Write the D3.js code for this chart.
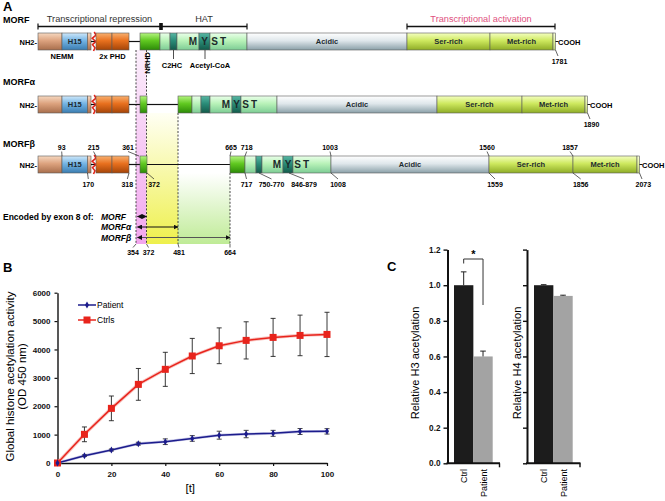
<!DOCTYPE html>
<html><head><meta charset="utf-8">
<script src="https://cdn.jsdelivr.net/npm/d3@7/dist/d3.min.js"></script>
<style>
html,body{margin:0;padding:0;background:#fff;}
svg{display:block;}
text{font-family:"Liberation Sans",Arial,Helvetica,sans-serif;}
</style></head>
<body>
<svg id="fig" width="665" height="501"></svg>
<script>
// ---------------- Panel B data ----------------
const timePoints      = [0,10,20,30,40,50,60,70,80,90,100];
const patientActivity = [0,257,458,680,750,865,980,1020,1045,1110,1115];
const patientError    = [0,30,35,50,100,100,140,130,105,105,95];
const ctrlActivity    = [0,1010,1925,2770,3300,3770,4130,4320,4425,4495,4530];
const ctrlError       = [0,260,435,560,600,620,630,655,670,715,780];
const activityTicks   = [0,1000,2000,3000,4000,5000,6000];
const timeTicks       = [0,20,40,60,80,100];
const seriesNames     = ["Patient","Ctrls"];

// ---------------- Panel C data ----------------
const sampleGroups  = ["Ctrl","Patient"];
const h3Values      = [1.0,0.6];
const h3Errors      = [0.075,0.03];
const h4Values      = [1.0,0.94];
const h4Errors      = [0.003,0.004];
const relativeTicks = [0,0.2,0.4,0.6,0.8,1.0,1.2];

// ---------------- Panel A schematic (boundaries in schematic units) ----------------
const isoformNames = ["MORF","MORF\u03b1","MORF\u03b2"];
const morfDomains = [["nemm",38,62],["h15",62,87.5,"H15"],["nemm",87.5,91],["break",91,96],["phd",96,112],["phd",112,129],["linker",129,140],["nrhd",140,160],["hat",160,170],["teal",170,177],["hat",177,199],["teal",199,210,"Y"],["hat",210,247],["acidic",247,407,"Acidic"],["ser",407,490,"Ser-rich"],["met",490,553,"Met-rich"],["cap",553,555.5]];
const morfAlphaDomains = [["nemm",38,62],["h15",62,87.5,"H15"],["nemm",87.5,91],["break",91,96],["phd",96,112],["phd",112,129],["linker",129,140],["nrhd",140,147],["linker",147,178],["nrhd",178,192],["hat",192,201],["teal",201,210],["hat",210,232],["teal",232,241,"Y"],["hat",241,277],["acidic",277,437,"Acidic"],["ser",437,522,"Ser-rich"],["met",522,585,"Met-rich"],["cap",585,587.5]];
const morfBetaDomains = [["nemm",38,62],["h15",62,87.5,"H15"],["nemm",87.5,91],["break",91,96],["phd",96,112],["phd",112,129],["linker",129,140],["nrhd",140,147],["linker",147,230],["nrhd",230,245],["hat",245,256],["teal",256,262],["hat",262,283],["teal",283,293,"Y"],["hat",293,331],["acidic",331,489,"Acidic"],["ser",489,573,"Ser-rich"],["met",573,637,"Met-rich"],["cap",637,639.5]];
const mystLetters = ["M","Y","S","T"];
const endResidues = ["1781","1890","2073"];
const betaTopNumbers = [["93",61.7,62],["215",93.5,96],["361",128,139],["665",231,230],["718",246.7,245],["1003",330,331],["1560",487,489],["1857",570,573]];
const betaBottomNumbers = [["170",88.3,87.5],["318",127.3,129],["372",154,147],["717",246.5,245],["750-770",271.5,259],["846-879",304,289],["1008",338,331],["1559",495,489],["1856",580.7,573]];
const exonLabels = [["354",133,136],["372",148.5,146.5],["481",179,178],["664",230,230]];
const exonArrows = [["MORF",146.5],["MORF\u03b1",178],["MORF\u03b2",230]];
const bracketSpans = [["Transcriptional repression",38,161,"#333"],["HAT",161,247,"#333"],["Transcriptional activation",407,555,"#e0507e"]];

const svg = d3.select("#fig");
const defs = svg.append("defs");
const palette = {
  nemm:["#f6d8c0","#dca27e","#a86e4c"],
  h15:["#cfe8fa","#74b4e4","#3a7cb0"],
  phd:["#f8b070","#e8701e","#a44408"],
  nrhd:["#b4f480","#60c820","#2c8a08"],
  hat:["#eaffea","#b8f2b8","#7ccc94"],
  teal:["#58b8a4","#2a8c78","#135a4a"],
  acidic:["#ffffff","#dfe7eb","#8aa0a8"],
  ser:["#f4ffc0","#cde85e","#8eac26"],
  met:["#f4ffc0","#cde85e","#8eac26"],
  cap:["#f8ffd8","#e4f4a0","#b8cc70"]
};
Object.entries(palette).forEach(([k,c])=>{
  const g = defs.append("linearGradient").attr("id","g-"+k).attr("x1",0).attr("y1",0).attr("x2",0).attr("y2",1);
  g.append("stop").attr("offset","0%").attr("stop-color",c[0]);
  g.append("stop").attr("offset","45%").attr("stop-color",c[1]);
  g.append("stop").attr("offset","100%").attr("stop-color",c[2]);
});
const bands = {pink:["#fbeefb","#f2a6ee"],yellow:["#fffff4","#eef04c"],green:["#ffffff","#bfeb96"]};
Object.entries(bands).forEach(([k,c])=>{
  const g = defs.append("linearGradient").attr("id","b-"+k).attr("x1",0).attr("y1",0).attr("x2",0).attr("y2",1);
  g.append("stop").attr("offset","0%").attr("stop-color",c[0]);
  g.append("stop").attr("offset","100%").attr("stop-color",c[1]);
});
["arrR","arrL"].forEach((id,i)=>{
  defs.append("marker").attr("id",id).attr("viewBox","0 0 10 10").attr("refX",i?1:9).attr("refY",5)
    .attr("markerWidth",5).attr("markerHeight",5).attr("orient","auto")
    .append("path").attr("d",i?"M10,0L0,5L10,10z":"M0,0L10,5L0,10z").attr("fill","#111");
});

// ---------------- Panel A ----------------
const sx = d3.scaleLinear().domain([0,665]).range([0,665]);
const rowCenters = [41.5,104.5,164.5];
const barH = 17;
const gA = svg.append("g");
gA.append("text").attr("x",3).attr("y",11).attr("font-size",13).attr("font-weight","bold").text("A");

// shaded exon-8 bands
const bandTop = rowCenters.map(c=>c+barH/2);
gA.append("rect").attr("x",sx(136)).attr("y",bandTop[0]).attr("width",sx(146.5)-sx(136)).attr("height",244-bandTop[0]).attr("fill","url(#b-pink)");
gA.append("rect").attr("x",sx(146.5)).attr("y",bandTop[1]).attr("width",sx(178)-sx(146.5)).attr("height",244-bandTop[1]).attr("fill","url(#b-yellow)");
gA.append("rect").attr("x",sx(178)).attr("y",bandTop[2]).attr("width",sx(230)-sx(178)).attr("height",244-bandTop[2]).attr("fill","url(#b-green)");
[[136,0],[146.5,0],[178,1],[230,2]].forEach(([x,r])=>{
  gA.append("line").attr("x1",sx(x)).attr("x2",sx(x)).attr("y1",bandTop[r]).attr("y2",244)
    .attr("stroke","#333").attr("stroke-width",0.9).attr("stroke-dasharray","2,1.6");
});

// brackets
bracketSpans.forEach(([t,a,b,col])=>{
  const y = 26.5;
  gA.append("line").attr("x1",sx(a)).attr("x2",sx(b)).attr("y1",y).attr("y2",y).attr("stroke","#111").attr("stroke-width",1.4);
  [a,b].forEach(x=>gA.append("line").attr("x1",sx(x)).attr("x2",sx(x)).attr("y1",y-3).attr("y2",y+3).attr("stroke","#111").attr("stroke-width",1.2));
  gA.append("text").attr("x",(sx(a)+sx(b))/2).attr("y",22).attr("text-anchor","middle").attr("font-size",9.2).attr("fill",col).text(t);
});
gA.append("rect").attr("x",sx(161)-1.8).attr("y",23).attr("width",3.6).attr("height",7).attr("fill","#111");

const allDomains = [morfDomains,morfAlphaDomains,morfBetaDomains];
const labelY = [23,85,147];
allDomains.forEach((doms,ri)=>{
  const cy = rowCenters[ri], top = cy-barH/2;
  const g = gA.append("g");
  g.append("text").attr("x",3).attr("y",labelY[ri]).attr("font-size",9).attr("font-weight","bold").text(isoformNames[ri]);
  g.append("text").attr("x",sx(38)-1).attr("y",cy+3).attr("text-anchor","end").attr("font-size",7.5).attr("font-weight","bold").text("NH2-");
  doms.forEach(([type,a,b,lab])=>{
    if(type==="linker"||type==="break"){
      g.append("line").attr("x1",sx(a)).attr("x2",sx(b)).attr("y1",cy).attr("y2",cy).attr("stroke","#111").attr("stroke-width",1.2);
      if(type==="break"){
        const xs=[sx(a)+3.2,sx(a)+5,sx(a)+1.2,sx(a)+4.8,sx(a)+1.5,sx(a)+4,sx(a)+2.5];
        const pts = xs.map((x,i)=>[x, top-1+i*(barH+2)/(xs.length-1)]);
        g.append("path").attr("d",d3.line()(pts)).attr("fill","none").attr("stroke","#e2261c").attr("stroke-width",1.6);
      }
      return;
    }
    g.append("rect").attr("x",sx(a)).attr("y",top).attr("width",sx(b)-sx(a)).attr("height",barH)
      .attr("fill",`url(#g-${type})`).attr("stroke","#5a5a5a").attr("stroke-width",0.6);
    if(lab && type!=="teal"){
      g.append("text").attr("x",(sx(a)+sx(b))/2).attr("y",cy+2.7).attr("text-anchor","middle")
        .attr("font-size",7.5).attr("font-weight","bold").attr("fill","#1d2a30").text(lab);
    }
  });
  // MYST letters drawn on top of all domain boxes
  doms.filter(d=>d[0]==="teal" && d[3]==="Y").forEach(([type,a,b])=>{
    const xs=[sx(a)-6,(sx(a)+sx(b))/2,sx(b)+4.5,sx(b)+13];
    mystLetters.forEach((l,i)=>g.append("text").attr("x",xs[i]).attr("y",cy+3.6).attr("text-anchor","middle")
      .attr("font-size",10).attr("font-weight","bold").attr("fill","#1c2b2c").text(l));
  });
  const endX = sx(doms[doms.length-1][2]);
  g.append("line").attr("x1",endX).attr("x2",endX+3).attr("y1",cy).attr("y2",cy).attr("stroke","#111").attr("stroke-width",1);
  g.append("text").attr("x",endX+2.5).attr("y",cy+3).attr("font-size",7.5).attr("font-weight","bold").text("COOH");
  g.append("path").attr("d",`M${endX},${cy+barH/2}L${endX+2.5},${cy+barH/2+6}`).attr("stroke","#222").attr("stroke-width",0.7).attr("fill","none");
  if(ri<2) g.append("text").attr("x",endX+4).attr("y",cy+barH/2+14).attr("text-anchor","middle").attr("font-size",7).attr("font-weight","bold").text(endResidues[ri]);
  else g.append("text").attr("x",643.3).attr("y",187).attr("text-anchor","middle").attr("font-size",7).attr("font-weight","bold").text(endResidues[ri]);
});

// MORF annotations
const m0 = rowCenters[0]+barH/2;
gA.append("text").attr("x",sx(62)).attr("y",m0+9).attr("text-anchor","middle").attr("font-size",7.5).attr("font-weight","bold").text("NEMM");
gA.append("text").attr("x",sx(112.5)).attr("y",m0+9).attr("text-anchor","middle").attr("font-size",7.5).attr("font-weight","bold").text("2x PHD");
gA.append("text").attr("transform",`translate(${sx(149.5)},${m0+2}) rotate(-90)`).attr("text-anchor","end").attr("font-size",7.5).attr("font-weight","bold").text("NRHD");
[["C2HC",173.5,172],["Acetyl-CoA",205,210]].forEach(([t,lx,tx])=>{
  gA.append("line").attr("x1",sx(lx)).attr("x2",sx(lx)).attr("y1",m0).attr("y2",m0+9).attr("stroke","#222").attr("stroke-width",0.8);
  gA.append("text").attr("x",sx(tx)).attr("y",m0+18).attr("text-anchor","middle").attr("font-size",7.5).attr("font-weight","bold").text(t);
});

// MORFβ numbering
const bTop = rowCenters[2]-barH/2, bBot = rowCenters[2]+barH/2;
betaTopNumbers.forEach(([t,lx,bx])=>{
  gA.append("text").attr("x",sx(lx)).attr("y",bTop-6).attr("text-anchor","middle").attr("font-size",7).attr("font-weight","bold").text(t);
  gA.append("path").attr("d",`M${sx(lx)},${bTop-4.5}L${sx(bx)},${bTop}`).attr("stroke","#222").attr("stroke-width",0.7);
});
betaBottomNumbers.forEach(([t,lx,bx])=>{
  gA.append("text").attr("x",sx(lx)).attr("y",bBot+14).attr("text-anchor","middle").attr("font-size",7).attr("font-weight","bold").text(t);
  gA.append("path").attr("d",`M${sx(bx)},${bBot}L${sx(lx)},${bBot+6}`).attr("stroke","#222").attr("stroke-width",0.7);
});

// encoded by exon 8
const arrowY = [216.5,227,237.5];
gA.append("text").attr("x",3).attr("y",219.5).attr("font-size",8.5).attr("font-weight","bold").text("Encoded by exon 8 of:");
exonArrows.forEach(([name,end],i)=>{
  gA.append("text").attr("x",101).attr("y",arrowY[i]+3).attr("font-size",8.5).attr("font-weight","bold").attr("font-style","italic").text(name);
  gA.append("line").attr("x1",sx(137.5)).attr("x2",sx(end)).attr("y1",arrowY[i]).attr("y2",arrowY[i])
    .attr("stroke",i===2?"#555":"#111").attr("stroke-width",1)
    .attr("marker-start","url(#arrL)").attr("marker-end","url(#arrR)");
});
exonLabels.forEach(([t,lx,bx])=>{
  gA.append("path").attr("d",`M${sx(bx)},244L${sx(lx)},247.5`).attr("stroke","#222").attr("stroke-width",0.7);
  gA.append("text").attr("x",sx(lx)).attr("y",254.5).attr("text-anchor","middle").attr("font-size",7).attr("font-weight","bold").text(t);
});

// ---------------- Panel B ----------------
const gB = svg.append("g");
gB.append("text").attr("x",3).attr("y",272).attr("font-size",13).attr("font-weight","bold").text("B");
const xB = d3.scaleLinear().domain([0,100]).range([57.5,327]);
const yB = d3.scaleLinear().domain([0,6000]).range([463,292.7]);
const axBx = gB.append("g").attr("transform",`translate(0,${yB(0)})`)
  .call(d3.axisBottom(xB).tickValues(timeTicks).tickSize(3).tickSizeOuter(0).tickPadding(5).tickFormat(d3.format("d")));
const axBy = gB.append("g").attr("transform",`translate(${xB(0)},0)`)
  .call(d3.axisLeft(yB).tickValues(activityTicks).tickSize(3).tickSizeOuter(0).tickPadding(4).tickFormat(d3.format("d")));
[axBx,axBy].forEach(a=>{
  a.select(".domain").attr("stroke","#111").attr("stroke-width",1.4);
  a.selectAll(".tick line").attr("stroke","#111").attr("stroke-width",1.2);
  a.selectAll(".tick text").attr("font-size",8).attr("font-weight","bold").attr("fill","#111").attr("font-family","Liberation Sans, Arial, sans-serif");
});
gB.append("text").attr("x",xB(50)-2).attr("y",492).attr("text-anchor","middle").attr("font-size",11.5).text("[t]");
gB.append("text").attr("transform","translate(14,376.5) rotate(-90)").attr("text-anchor","middle").attr("font-size",11.5).text("Global histone acetylation activity");
gB.append("text").attr("transform","translate(25.5,376.5) rotate(-90)").attr("text-anchor","middle").attr("font-size",11.5).text("(OD 450 nm)");

const lineGen = d3.line().x(d=>xB(d[0])).y(d=>yB(d[1]));
const ctrlPts = timePoints.map((t,i)=>[t,ctrlActivity[i]]);
const patPts = timePoints.map((t,i)=>[t,patientActivity[i]]);
gB.append("path").attr("d",lineGen(ctrlPts)).attr("fill","none").attr("stroke","#f8c4c0").attr("stroke-width",3.4);
gB.append("path").attr("d",lineGen(ctrlPts)).attr("fill","none").attr("stroke","#e8241c").attr("stroke-width",1.5);
gB.append("path").attr("d",lineGen(patPts)).attr("fill","none").attr("stroke","#c8c8e8").attr("stroke-width",2.8);
gB.append("path").attr("d",lineGen(patPts)).attr("fill","none").attr("stroke","#1c1c8c").attr("stroke-width",1.5);
function errBars(vals,errs,col){
  timePoints.forEach((t,i)=>{
    if(!errs[i]) return;
    const x=xB(t), y1=yB(vals[i]-errs[i]), y2=yB(vals[i]+errs[i]);
    gB.append("line").attr("x1",x).attr("x2",x).attr("y1",y1).attr("y2",y2).attr("stroke",col).attr("stroke-width",0.9);
    [y1,y2].forEach(y=>gB.append("line").attr("x1",x-2.5).attr("x2",x+2.5).attr("y1",y).attr("y2",y).attr("stroke",col).attr("stroke-width",0.9));
  });
}
errBars(ctrlActivity,ctrlError,"#222");
errBars(patientActivity,patientError,"#333");
gB.selectAll(".sq").data(ctrlPts).join("rect").attr("x",d=>xB(d[0])-3.5).attr("y",d=>yB(d[1])-3.5)
  .attr("width",7).attr("height",7).attr("fill","#e8241c");
const diamond = d3.symbol().type(d3.symbolDiamond).size(14);
gB.selectAll(".dm").data(patPts).join("path").attr("d",diamond).attr("transform",d=>`translate(${xB(d[0])},${yB(d[1])})`).attr("fill","#1c1c8c");
// legend
[[seriesNames[0],305,"#1c1c8c"],[seriesNames[1],320,"#e8241c"]].forEach(([n,y,c],i)=>{
  gB.append("line").attr("x1",78).attr("x2",96).attr("y1",y).attr("y2",y).attr("stroke",c).attr("stroke-width",1.5);
  if(i===0) gB.append("path").attr("d",diamond).attr("transform",`translate(87,${y})`).attr("fill",c);
  else gB.append("rect").attr("x",83.5).attr("y",y-3.5).attr("width",7).attr("height",7).attr("fill",c);
  gB.append("text").attr("x",97).attr("y",y+3.2).attr("font-size",8.5).text(n);
});

// ---------------- Panel C ----------------
const gC = svg.append("g");
gC.append("text").attr("x",387).attr("y",271).attr("font-size",13).attr("font-weight","bold").text("C");
const yC = d3.scaleLinear().domain([0,1.2]).range([463.3,249.6]);
function barPanel(axisX, bandRange, xEnd, vals, errs, title, showLabels, titleX){
  const g = gC.append("g");
  const xC = d3.scaleBand().domain(sampleGroups).range(bandRange).padding(0);
  g.selectAll("rect").data(sampleGroups).join("rect")
    .attr("x",d=>xC(d)).attr("width",xC.bandwidth())
    .attr("y",(d,i)=>yC(vals[i])).attr("height",(d,i)=>yC(0)-yC(vals[i]))
    .attr("fill",(d,i)=>i?"#a3a3a3":"#1c1c1c");
  sampleGroups.forEach((d,i)=>{
    const cx = xC(d)+xC.bandwidth()/2, yt = yC(vals[i]+errs[i]);
    g.append("line").attr("x1",cx).attr("x2",cx).attr("y1",yC(vals[i])).attr("y2",yt).attr("stroke","#222").attr("stroke-width",1);
    g.append("line").attr("x1",cx-2.8).attr("x2",cx+2.8).attr("y1",yt).attr("y2",yt).attr("stroke","#222").attr("stroke-width",1);
    g.append("text").attr("transform",`translate(${cx+3.5},469) rotate(-90)`).attr("text-anchor","end").attr("font-size",9).text(d);
  });
  const ay = g.append("g").attr("transform",`translate(${axisX},0)`)
    .call(d3.axisLeft(yC).tickValues(relativeTicks).tickSize(4).tickSizeOuter(0).tickPadding(3).tickFormat(showLabels?d3.format(".1f"):()=>""));
  ay.select(".domain").attr("stroke","#111").attr("stroke-width",2);
  ay.selectAll(".tick line").attr("stroke","#111").attr("stroke-width",1.4);
  ay.selectAll(".tick text").attr("font-size",8.2).attr("font-weight","bold").attr("fill","#111").attr("font-family","Liberation Sans, Arial, sans-serif");
  g.append("line").attr("x1",axisX-1).attr("x2",xEnd).attr("y1",yC(0)).attr("y2",yC(0)).attr("stroke","#111").attr("stroke-width",2);
  g.append("line").attr("x1",xEnd-0.5).attr("x2",xEnd-0.5).attr("y1",yC(0)).attr("y2",yC(0)+4).attr("stroke","#111").attr("stroke-width",1.4);
  g.append("text").attr("transform",`translate(${titleX},363) rotate(-90)`).attr("text-anchor","middle").attr("font-size",11).text(title);
  return xC;
}
const xH3 = barPanel(447.5,[454,492.7],500,h3Values,h3Errors,"Relative H3 acetylation",true,419);
barPanel(527,[534,572.7],580.5,h4Values,h4Errors,"Relative H4 acetylation",false,521);
// significance bracket
const c1 = xH3("Ctrl")+xH3.bandwidth()/2, c2 = xH3("Patient")+xH3.bandwidth()/2;
gC.append("path").attr("d",`M${c1},263.5V259H${c2}V305`).attr("fill","none").attr("stroke","#333").attr("stroke-width",1);
gC.append("text").attr("x",(c1+c2)/2).attr("y",258).attr("text-anchor","middle").attr("font-size",11).attr("font-weight","bold").text("*");
</script>
</body></html>
